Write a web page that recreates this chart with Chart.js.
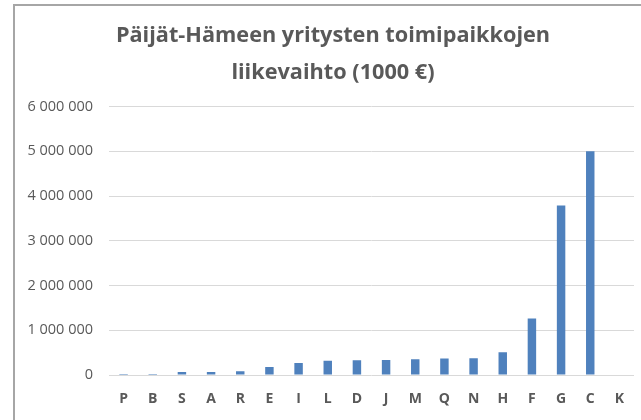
<!DOCTYPE html>
<html>
<head>
<meta charset="utf-8">
<script src="https://cdn.jsdelivr.net/npm/chart.js@4/dist/chart.umd.min.js"></script>
<style>
  html, body { margin: 0; padding: 0; background: #fff; overflow: hidden; width: 641px; height: 420px; }
  #wrap { position: absolute; left: 15px; top: 6px; width: 626px; height: 414px; }
  .ln { position: absolute; background: #a6a6a6; z-index: 10; }
  #lnLeft { left: 13px; top: 4px; width: 2px; height: 416px; }
  #lnTop { left: 13px; top: 4px; width: 628px; height: 2px; }
</style>
</head>
<body>
<div class="ln" id="lnLeft"></div>
<div class="ln" id="lnTop"></div>
<div id="wrap"><canvas id="c" width="626" height="414"></canvas></div>
<script>
const titleLines = ["Päijät-Hämeen yritysten toimipaikkojen", "liikevaihto (1000 €)"];
const categories = ["P", "B", "S", "A", "R", "E", "I", "L", "D", "J", "M", "Q", "N", "H", "F", "G", "C", "K"];
const turnover = [20000, 20000, 65000, 67000, 82000, 178000, 268000, 320000, 330000, 335000, 350000, 370000, 372000, 506000, 1265000, 3790000, 5000000, 0];
const yTicks = [0, 1000000, 2000000, 3000000, 4000000, 5000000, 6000000];

const fmt = v => String(v).replace(/\B(?=(\d{3})+(?!\d))/g, ' ');

// canvas origin is at page (15, 6)
const titlePlugin = {
  id: 'manualTitle',
  afterDraw(chart) {
    const ctx = chart.ctx;
    ctx.save();
    ctx.fillStyle = '#595959';
    ctx.font = 'bold 21.7px "Open Sans"';
    ctx.textAlign = 'center';
    ctx.textBaseline = 'middle';
    ctx.fillText(titleLines[0], 318, 30);
    ctx.fillText(titleLines[1], 318, 67);
    ctx.restore();
  }
};

new Chart(document.getElementById('c'), {
  type: 'bar',
  data: {
    labels: categories,
    datasets: [{
      data: turnover,
      backgroundColor: '#4f81bd',
      borderWidth: 0,
      barPercentage: 0.58,
      categoryPercentage: 0.5
    }]
  },
  options: {
    responsive: false,
    animation: false,
    layout: { padding: { top: 100.5, right: 7, left: 0, bottom: 0 } },
    plugins: { legend: { display: false }, title: { display: false }, tooltip: { enabled: false } },
    scales: {
      x: {
        grid: { display: false, drawTicks: false },
        border: { display: false },
        ticks: { color: '#595959', font: { family: 'Open Sans', size: 14, weight: 'bold' }, padding: 16, maxRotation: 0 },
        afterFit(scale) { scale.height = 45; }
      },
      y: {
        min: 0, max: 6000000,
        afterBuildTicks(scale) { scale.ticks = yTicks.map(v => ({ value: v })); },
        grid: { color: '#d9d9d9', lineWidth: 1, drawTicks: false },
        border: { display: false },
        ticks: { color: '#595959', font: { family: 'Open Sans', size: 14.5 }, padding: 16, callback: v => fmt(v) },
        afterFit(scale) { scale.width = 94; }
      }
    }
  },
  plugins: [titlePlugin]
});
</script>
</body>
</html>
